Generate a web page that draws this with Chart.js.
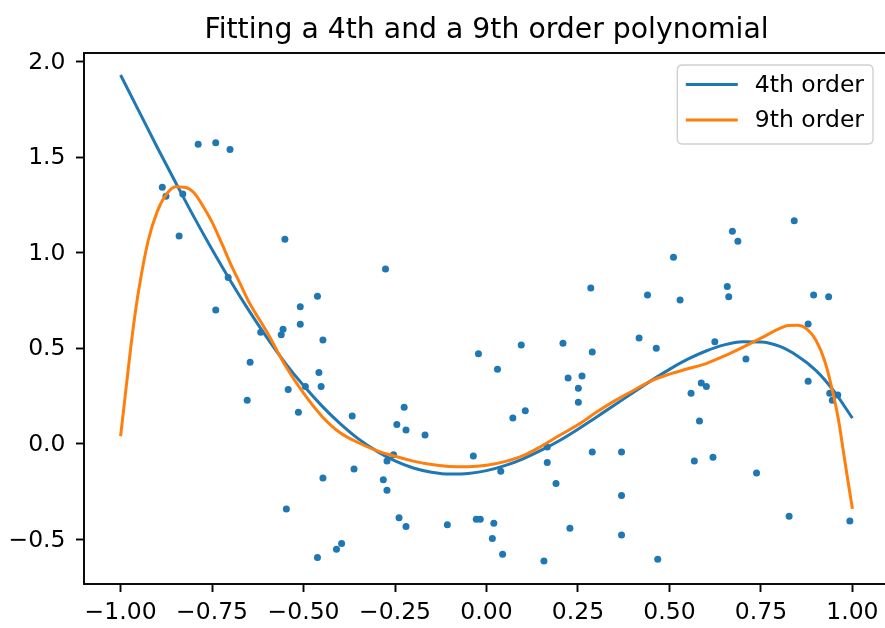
<!DOCTYPE html>
<html><head><meta charset="utf-8">
<script src="https://cdn.jsdelivr.net/npm/chart.js@4.4.1/dist/chart.umd.min.js"></script>
<style>
html,body{margin:0;padding:0;background:#fff;overflow:hidden;}
#wrap{position:relative;width:885px;height:628px;overflow:hidden;background:#fff;}
canvas{display:block;}
</style></head><body>
<div id="wrap"><canvas id="c" width="973" height="628" style="width:973px;height:628px"></canvas></div>
<script>
const TITLE = 'Fitting a 4th and a 9th order polynomial';
const seriesNames = ['4th order', '9th order'];

const xTicks = [-1, -0.75, -0.5, -0.25, 0, 0.25, 0.5, 0.75, 1];
const xTickLabels = ['\u22121.00','\u22120.75','\u22120.50','\u22120.25','0.00','0.25','0.50','0.75','1.00'];
const yTicks = [-0.5, 0, 0.5, 1, 1.5, 2];
const yTickLabels = ['\u22120.5','0.0','0.5','1.0','1.5','2.0'];

// scattered samples
const sampleX = [-0.788,-0.740,-0.701,-0.886,-0.876,-0.830,-0.840,-0.551,-0.706,-0.462,-0.509,-0.740,
  -0.509,-0.617,-0.556,-0.561,-0.447,-0.646,-0.458,-0.542,-0.495,-0.452,-0.654,-0.514,-0.367,-0.447,-0.547,-0.396,-0.410,-0.462,
  -0.276,0.285,-0.022,0.095,0.209,0.289,0.030,0.223,0.261,0.251,0.251,-0.225,-0.245,-0.220,-0.168,0.072,0.106,-0.254,-0.272,-0.362,
  -0.036,0.039,0.166,0.166,0.190,0.289,-0.282,-0.272,-0.239,-0.220,-0.107,-0.028,-0.017,0.020,0.016,0.044,0.157,0.228,
  0.841,0.672,0.687,0.511,0.440,0.529,0.658,0.662,0.894,0.935,0.879,0.417,0.464,0.624,0.709,0.879,0.587,0.601,0.559,0.938,0.960,0.945,
  0.582,0.369,0.568,0.619,0.738,0.369,0.369,0.827,0.468,0.993];
const sampleY = [1.567,1.575,1.540,1.342,1.296,1.307,1.087,1.070,0.871,0.772,0.718,0.700,
  0.626,0.584,0.600,0.571,0.544,0.427,0.373,0.284,0.300,0.300,0.228,0.166,0.146,-0.179,-0.341,-0.521,-0.551,-0.594,
  0.915,0.815,0.472,0.518,0.526,0.481,0.390,0.345,0.355,0.291,0.218,0.192,0.101,0.073,0.047,0.136,0.173,-0.057,-0.089,-0.132,
  -0.063,-0.143,-0.016,-0.098,-0.207,-0.043,-0.188,-0.242,-0.387,-0.432,-0.423,-0.394,-0.394,-0.415,-0.495,-0.577,-0.613,-0.441,
  1.167,1.113,1.060,0.977,0.779,0.753,0.824,0.770,0.779,0.770,0.627,0.554,0.500,0.535,0.444,0.328,0.319,0.300,0.265,0.265,0.256,0.228,
  0.120,-0.043,-0.089,-0.070,-0.152,-0.270,-0.477,-0.378,-0.603,-0.404];

// 4th order fit curve
const fit4X = [-1,-0.95,-0.9,-0.85,-0.8,-0.75,-0.7,-0.65,-0.6,-0.55,-0.5,-0.45,-0.4,-0.35,-0.3,-0.25,-0.2,-0.15,-0.1,-0.05,0,
  0.05,0.1,0.15,0.2,0.25,0.3,0.35,0.4,0.45,0.5,0.55,0.6,0.65,0.7,0.75,0.8,0.85,0.9,0.95,1];
const fit4Y = [1.93,1.741,1.552,1.369,1.189,1.017,0.854,0.700,0.556,0.423,0.305,0.199,0.106,0.026,-0.038,-0.089,-0.126,-0.148,-0.158,-0.155,-0.14,
  -0.114,-0.078,-0.033,0.018,0.077,0.140,0.203,0.268,0.331,0.39,0.443,0.486,0.518,0.534,0.533,0.511,0.46,0.385,0.275,0.135];

// 9th order fit curve
const fit9X = [-1,-0.9875,-0.975,-0.9625,-0.95,-0.925,-0.9,-0.875,-0.85,-0.825,-0.8,-0.775,-0.75,-0.725,-0.7,-0.675,-0.65,-0.6,-0.55,-0.5,
  -0.45,-0.4,-0.35,-0.3,-0.25,-0.2,-0.15,-0.1,-0.05,0,0.05,0.1,0.15,0.2,0.25,0.3,0.35,0.4,0.45,0.5,0.55,0.6,0.65,0.7,0.75,0.8,
  0.825,0.85,0.875,0.9,0.925,0.95,0.9625,0.975,0.9875,1];
const fit9Y = [0.04,0.25,0.46,0.65,0.81,1.06,1.215,1.305,1.345,1.343,1.315,1.245,1.16,1.055,0.945,0.845,0.745,0.585,0.41,0.265,
  0.145,0.058,0.006,-0.035,-0.065,-0.09,-0.108,-0.118,-0.119,-0.112,-0.093,-0.062,-0.012,0.045,0.10,0.165,0.225,0.278,0.33,0.365,0.393,0.42,0.46,0.505,0.553,0.603,
  0.619,0.621,0.602,0.544,0.43,0.24,0.12,-0.035,-0.19,-0.34];

const BLUE = '#1f77b4', ORANGE = '#ff7f0e';
const FONT = "'DejaVu Sans', 'Liberation Sans', sans-serif";
const TICK_FS = 23.5;
const TITLE_FS = 28.3;

const toPts = (xs, ys) => xs.map((x, i) => ({x, y: ys[i]}));

const titlePlugin = {
  id: 'mplTitle',
  afterDraw(chart) {
    const {ctx, chartArea: a} = chart;
    ctx.save();
    ctx.font = TITLE_FS + 'px ' + FONT;
    ctx.fillStyle = '#000';
    ctx.textAlign = 'center';
    ctx.textBaseline = 'alphabetic';
    ctx.fillText(TITLE, (a.left + a.right) / 2, a.top - 15.5);
    ctx.restore();
  }
};

const framePlugin = {
  id: 'frame',
  afterDatasetsDraw(chart) {
    const {ctx, chartArea: a} = chart;
    ctx.save();
    ctx.strokeStyle = '#000';
    ctx.lineWidth = 1.9;
    ctx.strokeRect(a.left, a.top, a.right - a.left, a.bottom - a.top);
    ctx.restore();
  }
};

const legendPlugin = {
  id: 'mplLegend',
  afterDraw(chart) {
    const {ctx, chartArea: a} = chart;
    const items = chart.data.datasets.filter(d => d.label).map(d => ({label: d.label, color: d.borderColor, k: d.legendRank}))
      .sort((p, q) => p.k - q.k);
    ctx.save();
    ctx.font = TICK_FS + 'px ' + FONT;
    const tw = Math.max(...items.map(it => ctx.measureText(it.label).width));
    const padL = 8.5, handle = 52, gap = 17, padR = 9;
    const bw = padL + handle + gap + tw + padR;
    const right = a.right - 16;
    const left = right - bw;
    const top = a.top + 12;
    const rowH = 35.5, firstRow = 19.5;
    const bh = firstRow + rowH * (items.length - 1) + 24;
    const r = 5;
    ctx.beginPath();
    ctx.moveTo(left + r, top);
    ctx.lineTo(left + bw - r, top);
    ctx.quadraticCurveTo(left + bw, top, left + bw, top + r);
    ctx.lineTo(left + bw, top + bh - r);
    ctx.quadraticCurveTo(left + bw, top + bh, left + bw - r, top + bh);
    ctx.lineTo(left + r, top + bh);
    ctx.quadraticCurveTo(left, top + bh, left, top + bh - r);
    ctx.lineTo(left, top + r);
    ctx.quadraticCurveTo(left, top, left + r, top);
    ctx.closePath();
    ctx.fillStyle = 'rgba(255,255,255,0.8)';
    ctx.fill();
    ctx.strokeStyle = '#d0d0d0';
    ctx.lineWidth = 1.4;
    ctx.stroke();
    items.forEach((it, i) => {
      const cy = top + firstRow + i * rowH;
      ctx.beginPath();
      ctx.moveTo(left + padL, cy);
      ctx.lineTo(left + padL + handle, cy);
      ctx.strokeStyle = it.color;
      ctx.lineWidth = 3;
      ctx.stroke();
      ctx.fillStyle = '#000';
      ctx.textBaseline = 'middle';
      ctx.textAlign = 'left';
      ctx.fillText(it.label, left + padL + handle + gap, cy + 1);
    });
    ctx.restore();
  }
};

new Chart(document.getElementById('c'), {
  data: {
    datasets: [
      {type: 'scatter', data: toPts(sampleX, sampleY), backgroundColor: BLUE, borderWidth: 0, pointRadius: 3.5, pointHoverRadius: 3.5, order: 2},
      {type: 'line', label: seriesNames[0], legendRank: 0, data: toPts(fit4X, fit4Y), borderColor: BLUE, borderWidth: 3, pointRadius: 0,
        cubicInterpolationMode: 'monotone', fill: false, order: 1},
      {type: 'line', label: seriesNames[1], legendRank: 1, data: toPts(fit9X, fit9Y), borderColor: ORANGE, borderWidth: 3, pointRadius: 0,
        cubicInterpolationMode: 'monotone', fill: false, order: 0}
    ]
  },
  options: {
    responsive: false,
    devicePixelRatio: 1,
    animation: false,
    events: [],
    layout: {padding: {left: 0, right: 84, top: 53, bottom: 0}},
    plugins: {
      legend: {display: false},
      tooltip: {enabled: false},
      title: {display: false}
    },
    scales: {
      x: {
        type: 'linear', min: -1.1, max: 1.1,
        afterBuildTicks: s => { s.ticks = xTicks.map(v => ({value: v})); },
        afterFit: s => { s.height = 44; },
        ticks: {callback: v => xTickLabels[xTicks.indexOf(v)], color: '#000', font: {family: FONT, size: TICK_FS}, padding: 7, maxRotation: 0, autoSkip: false},
        grid: {display: true, drawOnChartArea: false, drawTicks: true, tickLength: 8, tickWidth: 1.9, tickColor: '#000'},
        border: {display: false}
      },
      y: {
        type: 'linear', min: -0.733, max: 2.045,
        afterBuildTicks: s => { s.ticks = yTicks.map(v => ({value: v})); },
        afterFit: s => { s.width = 84; },
        ticks: {callback: v => yTickLabels[yTicks.indexOf(v)], color: '#000', font: {family: FONT, size: TICK_FS}, padding: 10.5, labelOffset: 1, autoSkip: false},
        grid: {display: true, drawOnChartArea: false, drawTicks: true, tickLength: 8, tickWidth: 1.9, tickColor: '#000'},
        border: {display: false}
      }
    }
  },
  plugins: [framePlugin, legendPlugin, titlePlugin]
});
</script>
</body></html>
